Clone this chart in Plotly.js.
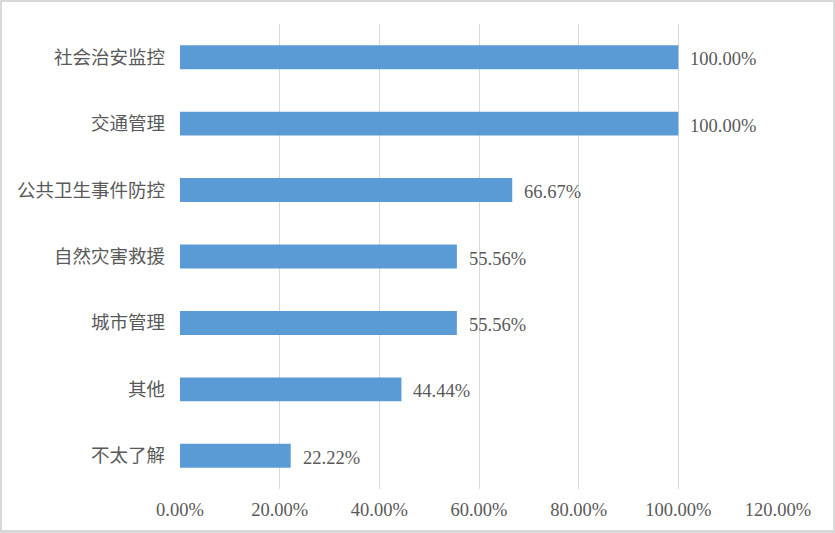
<!DOCTYPE html>
<html>
<head>
<meta charset="utf-8">
<script src="https://cdn.plot.ly/plotly-3.0.1.min.js"></script>
<style>
  html, body { margin: 0; padding: 0; background: #fff; }
  #wrap { position: relative; width: 835px; height: 533px; }
  #chart { width: 835px; height: 533px; }
  #frame { position: absolute; left: 0; top: 0; width: 835px; height: 533px; box-sizing: border-box;
           border: 2px solid #D9D9D9; border-bottom-width: 3px; pointer-events: none; }
</style>
</head>
<body>
<div id="wrap">
  <div id="chart"></div>
  <div id="frame"></div>
</div>
<script>
const categories = ["社会治安监控", "交通管理", "公共卫生事件防控", "自然灾害救援", "城市管理", "其他", "不太了解"];
const values = [100.00, 100.00, 66.67, 55.56, 55.56, 44.44, 22.22];
const xTickVals = [0, 20, 40, 60, 80, 100, 120];
const xTickText = ["0.00%", "20.00%", "40.00%", "60.00%", "80.00%", "100.00%", "120.00%"];

const FONT = "'Liberation Serif', 'Noto Sans CJK SC', serif";
const TXT = "#595959";

const trace = {
  type: "bar",
  orientation: "h",
  x: values,
  y: categories,
  width: 0.36,
  marker: { color: "#5B9BD5" },
  hoverinfo: "skip"
};

const annotations = values.map((v, i) => ({
  x: v, y: categories[i], xref: "x", yref: "y",
  text: v.toFixed(2) + "%",
  showarrow: false, xanchor: "left", yanchor: "middle", xshift: 10, yshift: -2,
  font: { family: FONT, size: 18.5, color: TXT }
}));

const layout = {
  width: 835, height: 533,
  margin: { l: 179.5, r: 56.5, t: 23.5, b: 43.5, pad: 0 },
  paper_bgcolor: "#fff", plot_bgcolor: "#fff",
  showlegend: false,
  font: { family: FONT, size: 18.5, color: TXT },
  xaxis: {
    range: [0, 120],
    tickvals: xTickVals, ticktext: xTickText,
    showgrid: true, gridcolor: "#D9D9D9", gridwidth: 1,
    zeroline: false, showline: false, ticks: "",
    ticklabelstandoff: 7,
    tickfont: { family: FONT, size: 18.5, color: TXT },
    fixedrange: true
  },
  yaxis: {
    type: "category",
    categoryorder: "array", categoryarray: categories,
    range: [6.5, -0.5],
    showgrid: false, zeroline: false, showline: false, ticks: "",
    ticklabelstandoff: 14,
    tickfont: { family: FONT, size: 18.5, color: TXT },
    fixedrange: true
  },
  annotations: annotations
};

Plotly.newPlot("chart", [trace], layout, { displayModeBar: false, staticPlot: true });
</script>
</body>
</html>
